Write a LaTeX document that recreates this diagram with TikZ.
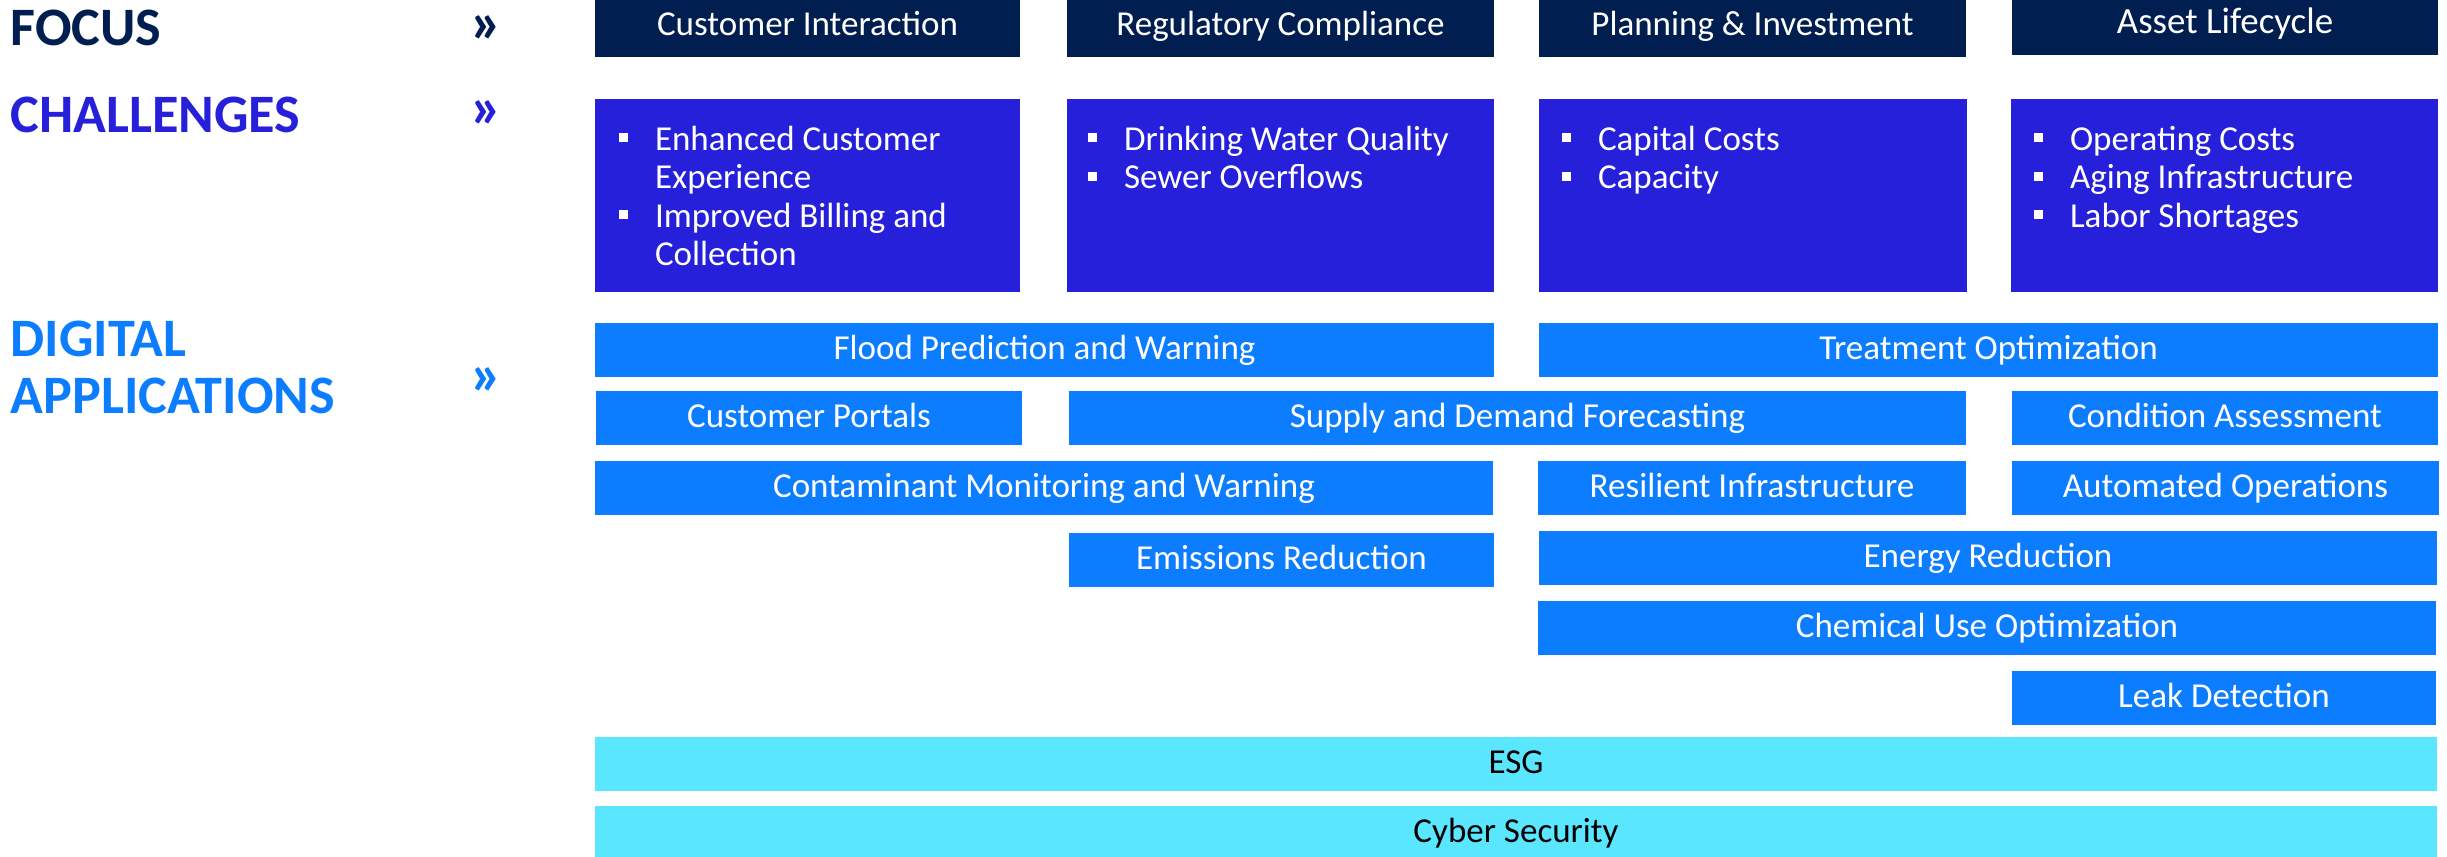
\documentclass[tikz,border=0pt]{standalone}
\usepackage{fontspec}
\setmainfont{Carlito}
\definecolor{navy}{HTML}{001E50}
\definecolor{chalblue}{HTML}{2620DB}
\definecolor{appblue}{HTML}{0C7DFF}
\definecolor{esgcyan}{HTML}{5AE6FF}
\newlength\px \setlength\px{0.01cm}
\newcommand\blt{\makebox[36\px][l]{\raisebox{8\px}{\rule{9\px}{9\px}}}}
\newcommand\cont{\hspace*{36\px}}
\tikzset{
  base/.style={inner sep=0pt, outer sep=0pt, font=\fontsize{9.96pt}{10.95pt}\selectfont},
  focusbox/.style={base, fill=navy, text=white, anchor=north, text height=0.35cm, text depth=0.22cm},
  chalbox/.style={base, fill=chalblue, anchor=north west, minimum height=1.93cm},
  chaltext/.style={base, text=white, anchor=base west},
  appbox/.style={base, fill=appblue, text=white, anchor=north, text height=0.36cm, text depth=0.18cm},
  esgbox/.style={base, fill=esgcyan, text=black, anchor=north, text height=0.36cm, text depth=0.18cm},
  head/.style={inner sep=0pt, anchor=base west, font=\fontsize{15.4pt}{16.36pt}\selectfont\bfseries},
  chev/.style={inner sep=0pt, anchor=base, font=\fontsize{17pt}{18pt}\selectfont\bfseries}
}
\begin{document}
\begin{tikzpicture}[x=0.01cm, y=-0.01cm]
\fill[white] (0,0) rectangle (2447,856);
\useasboundingbox (0,0) rectangle (2447,856);

% headings
\node[head, text=navy] (hfocus) at (10,45) {FOCUS};
\node[head, text=chalblue] (hchal) at (10,132) {CHALLENGES};
\node[head, text=appblue] (hdig) at (10,356) {\begin{tabular}[t]{@{}l@{}}DIGITAL\\APPLICATIONS\end{tabular}};
\node[chev, text=navy] (chf) at (487,42) {»};
\node[chev, text=chalblue] (chc) at (487,127) {»};
\node[chev, text=appblue] (chd) at (487,394) {»};

% focus
\node[focusbox, minimum width=4.25cm] (f1) at (807.5,0) {Customer Interaction};
\node[focusbox, minimum width=4.27cm] (f2) at (1280.5,0) {Regulatory Compliance};
\node[focusbox, minimum width=4.27cm] (f3) at (1752.5,0) {Planning \& Investment};
\node[focusbox, minimum width=4.26cm, text height=0.33cm, text depth=0.22cm, font=\fontsize{10.5pt}{11pt}\selectfont] (f4) at (2225,0) {Asset Lifecycle};

% challenges
\node[chalbox, minimum width=4.25cm] (c1) at (595,99) {};
\node[chalbox, minimum width=4.27cm] (c2) at (1067,99) {};
\node[chalbox, minimum width=4.28cm] (c3) at (1539,99) {};
\node[chalbox, minimum width=4.27cm] (c4) at (2011,99) {};
\node[chaltext] (t1) at (619,150) {\begin{tabular}[t]{@{}l@{}}\blt Enhanced Customer\\\cont Experience\\\blt Improved Billing and\\\cont Collection\end{tabular}};
\node[chaltext] (t2) at (1088,150) {\begin{tabular}[t]{@{}l@{}}\blt Drinking Water Quality\\\blt Sewer Overflows\end{tabular}};
\node[chaltext] (t3) at (1562,150) {\begin{tabular}[t]{@{}l@{}}\blt Capital Costs\\\blt Capacity\end{tabular}};
\node[chaltext] (t4) at (2034,150) {\begin{tabular}[t]{@{}l@{}}\blt Operating Costs\\\blt Aging Infrastructure\\\blt Labor Shortages\end{tabular}};

% digital applications
\node[appbox, minimum width=8.99cm] (flood) at (1044.5,323) {Flood Prediction and Warning};
\node[appbox, minimum width=8.99cm] (treat) at (1988.5,323) {Treatment Optimization};
\node[appbox, minimum width=4.26cm] (portal) at (809,391) {Customer Portals};
\node[appbox, minimum width=8.97cm] (supply) at (1517.5,391) {Supply and Demand Forecasting};
\node[appbox, minimum width=4.26cm] (cond) at (2225,391) {Condition Assessment};
\node[appbox, minimum width=8.98cm] (contam) at (1044,461) {Contaminant Monitoring and Warning};
\node[appbox, minimum width=4.28cm] (resil) at (1752,461) {Resilient Infrastructure};
\node[appbox, minimum width=4.27cm] (auto) at (2225.5,461) {Automated Operations};
\node[appbox, minimum width=4.25cm] (emis) at (1281.5,533) {Emissions Reduction};
\node[appbox, minimum width=8.98cm] (energy) at (1988,531) {Energy Reduction};
\node[appbox, minimum width=8.98cm] (chem) at (1987,601) {Chemical Use Optimization};
\node[appbox, minimum width=4.24cm] (leak) at (2224,671) {Leak Detection};
\node[esgbox, minimum width=18.40cm] (esg) at (1516,737) {ESG};
\node[esgbox, minimum width=18.40cm] (cyber) at (1516,806) {Cyber Security};
\end{tikzpicture}
\end{document}
